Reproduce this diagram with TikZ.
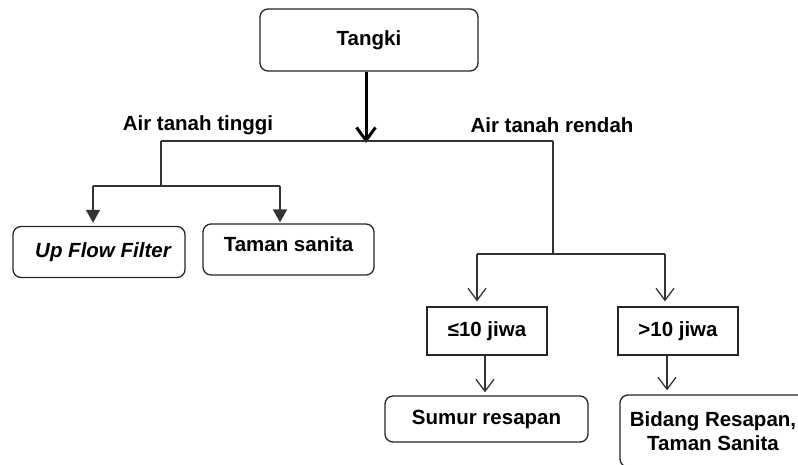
\documentclass[tikz,border=0pt]{standalone}
\usepackage{fontspec}
\setmainfont{Liberation Sans}
\usetikzlibrary{arrows.meta}
\begin{document}
\begin{tikzpicture}[x=1pt,y=-1pt,
  lbl/.style={font=\fontsize{20.5}{24.5}\selectfont\bfseries},
  rbox/.style={draw=black!85, line width=1.3pt, rounded corners=8pt, inner sep=0pt, lbl},
  sbox/.style={draw=black!85, line width=1.3pt, inner sep=0pt, lbl},
  conn/.style={line width=1.3pt, draw=black!80},
  filltip/.style={-{Triangle[width=14pt,length=13pt]}},
  opentip/.style={-{Straight Barb[width=18pt,length=12pt,line width=1.3pt]}},
]
\useasboundingbox (0,0) rectangle (798,464);
\clip (0,0) rectangle (798,464);

% nodes
\node[rbox, minimum width=218, minimum height=62] (tangki) at (369,40) {Tangki};
\node[lbl] (lt) at (198,125) {Air tanah tinggi};
\node[lbl] (lr) at (552,125) {Air tanah rendah};
\node[rbox, minimum width=172, minimum height=51, font=\fontsize{20.5}{24.5}\selectfont\bfseries\itshape, text depth=3pt] (uff) at (99,252) {\hspace*{8pt}Up Flow Filter};
\node[rbox, minimum width=171, minimum height=51, text depth=10pt] (taman) at (288.5,249.5) {Taman sanita};
\node[sbox, minimum width=120, minimum height=48] (le10) at (487,331) {≤10 jiwa};
\node[sbox, minimum width=120, minimum height=48] (gt10) at (678,331) {>10 jiwa};
\node[rbox, minimum width=203, minimum height=46] (sumur) at (486.5,419) {Sumur resapan};
\node[rbox, align=center, minimum width=186, minimum height=72] (bidang) at (713,431) {Bidang Resapan,\\Taman Sanita};

% junction points
\coordinate (j) at (366,141);
\coordinate (aL) at (161,141);
\coordinate (aR) at (553,141);
\coordinate (bL) at (161,186);
\coordinate (b1) at (93,186);
\coordinate (b2) at (280,186);
\coordinate (cR) at (553,254);
\coordinate (c1) at (477,254);
\coordinate (c2) at (665,254);

% connectors
\draw[line width=3pt, draw=black, -{Straight Barb[width=19pt,length=13pt,line width=3pt]}] (tangki.south -| j) -- ([yshift=-2pt]j);
\draw[conn] (aL) -- (aR);
\draw[conn] (aL) -- (bL);
\draw[conn] (b1) -- (b2);
\draw[conn, filltip, shorten >=3pt] (b1) -- (b1 |- uff.north);
\draw[conn, filltip, shorten >=1pt] (b2) -- (b2 |- taman.north);
\draw[conn] (aR) -- (cR);
\draw[conn] (c1) -- (c2);
\draw[conn, opentip, shorten >=5pt] (c1) -- (c1 |- le10.north);
\draw[conn, opentip, shorten >=5pt] (c2) -- (c2 |- gt10.north);
\draw[conn, opentip, shorten >=3pt] ([xshift=-2pt]le10.south) -- ([xshift=-2pt]le10.south |- sumur.north);
\draw[conn, opentip, shorten >=4pt] ([xshift=-11pt]gt10.south) -- ([xshift=-11pt]gt10.south |- bidang.north);
\end{tikzpicture}
\end{document}
